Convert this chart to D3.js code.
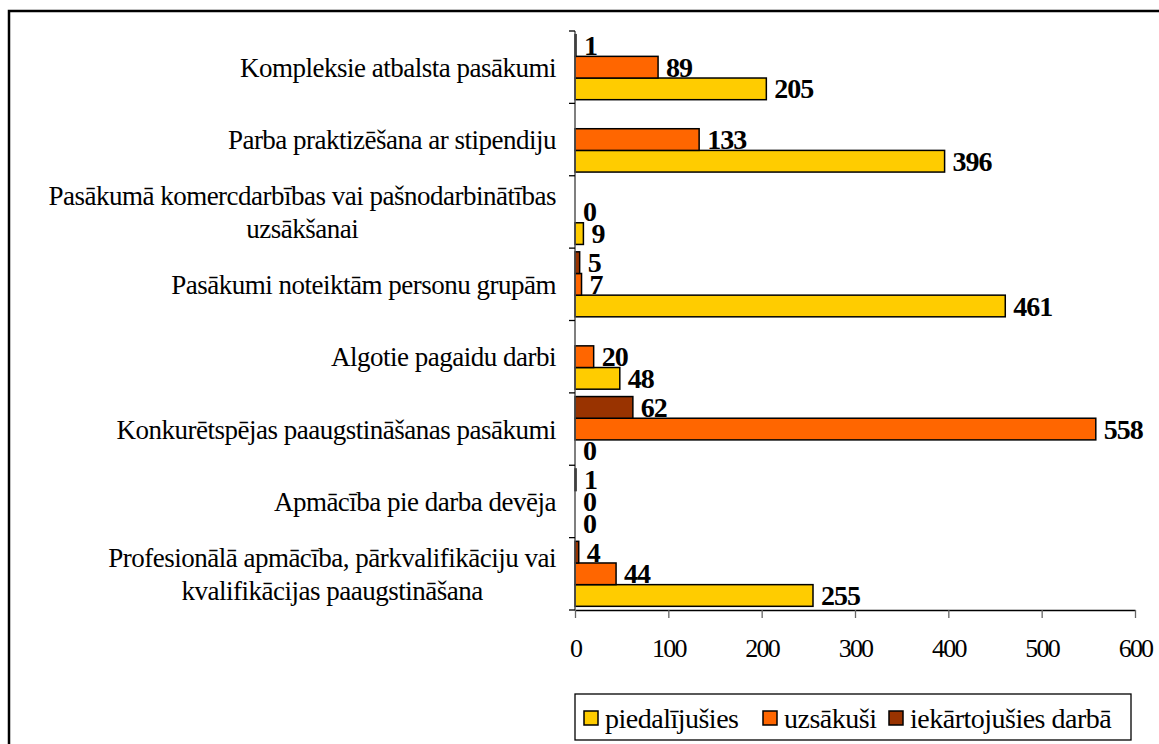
<!DOCTYPE html>
<html>
<head>
<meta charset="utf-8">
<script src="https://cdn.jsdelivr.net/npm/d3@7"></script>
<style>
  body { margin: 0; background: #fff; }
  svg { display: block; }
  svg text { font-family: "Liberation Serif", "DejaVu Serif", serif; }
</style>
</head>
<body>
<div id="chart"></div>
<script>
// Data
const categories = [
  'Kompleksie atbalsta pasākumi',
  'Parba praktizēšana ar stipendiju',
  'Pasākumā komercdarbības vai pašnodarbinātības uzsākšanai',
  'Pasākumi noteiktām personu grupām',
  'Algotie pagaidu darbi',
  'Konkurētspējas paaugstināšanas pasākumi',
  'Apmācība pie darba devēja',
  'Profesionālā apmācība, pārkvalifikāciju vai kvalifikācijas paaugstināšana'
];
// how the long labels break into lines
const categoryLines = [
  ['Kompleksie atbalsta pasākumi'],
  ['Parba praktizēšana ar stipendiju'],
  ['Pasākumā komercdarbības vai pašnodarbinātības', 'uzsākšanai'],
  ['Pasākumi noteiktām personu grupām'],
  ['Algotie pagaidu darbi'],
  ['Konkurētspējas paaugstināšanas pasākumi'],
  ['Apmācība pie darba devēja'],
  ['Profesionālā apmācība, pārkvalifikāciju vai', 'kvalifikācijas paaugstināšana']
];
const piedalijusies = [205, 396, 9, 461, 48, 0, 0, 255];
const uzsakusi = [89, 133, 0, 7, 20, 558, 0, 44];
const iekartojusies = [1, null, null, 5, null, 62, 1, 4];
const seriesNames = ['piedalījušies', 'uzsākuši', 'iekārtojušies darbā'];
const xTicks = [0, 100, 200, 300, 400, 500, 600];

const colors = {'piedalījušies': '#FFCC00', 'uzsākuši': '#FF6600', 'iekārtojušies darbā': '#993300'};
const seriesValues = {'piedalījušies': piedalijusies, 'uzsākuši': uzsakusi, 'iekārtojušies darbā': iekartojusies};

const svgWidth = 1159, svgHeight = 744;
const svg = d3.select('#chart').append('svg')
  .attr('width', svgWidth)
  .attr('height', svgHeight);

// outer frame (runs off the right and bottom edges)
svg.append('rect')
  .attr('x', 9).attr('y', 11)
  .attr('width', 1200).attr('height', 800)
  .attr('fill', 'none').attr('stroke', '#000').attr('stroke-width', 2.5);

// scales
const x = d3.scaleLinear().domain([0, 600]).range([575, 1135]);
const y = d3.scaleBand().domain(categories).range([31, 610]);
// inside each band Excel puts the last series on top
const ySub = d3.scaleBand()
  .domain(seriesNames.slice().reverse())
  .range([0, y.bandwidth()])
  .paddingOuter(0.17);

// bars
const rows = [];
categories.forEach((c, i) => {
  seriesNames.forEach(s => {
    rows.push({cat: c, series: s, value: seriesValues[s][i]});
  });
});
const shown = rows.filter(d => d.value !== null);

svg.append('g').selectAll('rect')
  .data(shown.filter(d => d.value > 0))
  .enter()
  .append('rect')
  .attr('x', x(0))
  .attr('y', d => y(d.cat) + ySub(d.series))
  .attr('width', d => x(d.value) - x(0))
  .attr('height', ySub.bandwidth())
  .attr('fill', d => colors[d.series])
  .attr('stroke', '#000')
  .attr('stroke-width', 1.5);

// value labels
svg.append('g').selectAll('text')
  .data(shown)
  .enter()
  .append('text')
  .attr('x', d => x(d.value) + 8)
  .attr('y', d => y(d.cat) + ySub(d.series) + ySub.bandwidth() / 2)
  .attr('dy', '0.34em')
  .style('font-size', '28px')
  .style('font-weight', 'bold')
  .style('letter-spacing', '-1px')
  .text(d => d.value);

// x axis
const xAxis = svg.append('g')
  .attr('transform', `translate(0,610)`)
  .call(d3.axisBottom(x).tickValues(xTicks).tickSize(8).tickPadding(21).tickSizeOuter(0));
xAxis.select('.domain').attr('stroke', '#000').attr('stroke-width', 1.5);
xAxis.selectAll('.tick line').attr('stroke', '#666').attr('stroke-width', 1.3);
xAxis.selectAll('.tick text')
  .style('font-size', '26px')
  .style('font-family', '"Liberation Serif", serif')
  .style('letter-spacing', '-1.8px')
  .attr('fill', '#000');

// y axis: line plus ticks on band edges
const yAxis = svg.append('g');
yAxis.append('line')
  .attr('x1', x(0)).attr('x2', x(0))
  .attr('y1', y.range()[0]).attr('y2', y.range()[1])
  .attr('stroke', '#555').attr('stroke-width', 1.5);
const edges = categories.map(c => y(c)).concat([y.range()[1]]);
yAxis.selectAll('.ytick')
  .data(edges)
  .enter()
  .append('line')
  .attr('x1', x(0) - 6).attr('x2', x(0))
  .attr('y1', d => d).attr('y2', d => d)
  .attr('stroke', '#000').attr('stroke-width', 1.3);

// category labels, multi-line blocks centred on themselves
const labelRight = 556;
const lineGap = 33;
const catG = svg.append('g');
categoryLines.forEach((lines, i) => {
  const cy = y(categories[i]) + y.bandwidth() / 2;
  const g = catG.append('g');
  const texts = lines.map((t, j) => g.append('text')
    .attr('y', cy + (j - (lines.length - 1) / 2) * lineGap)
    .attr('dy', '0.35em')
    .style('font-size', '27px')
    .style('letter-spacing', '-0.5px')
    .text(t));
  const widths = texts.map(t => t.node().getComputedTextLength());
  const maxW = d3.max(widths);
  texts.forEach(t => t.attr('x', labelRight - maxW / 2).attr('text-anchor', 'middle'));
});

// legend
const legend = svg.append('g');
legend.append('rect')
  .attr('x', 575).attr('y', 694)
  .attr('width', 556).attr('height', 46)
  .attr('fill', '#fff').attr('stroke', '#000').attr('stroke-width', 1.3);
const legendX = [584, 763, 889];
seriesNames.forEach((s, i) => {
  legend.append('rect')
    .attr('x', legendX[i]).attr('y', 711)
    .attr('width', 14).attr('height', 14)
    .attr('fill', colors[s]).attr('stroke', '#000').attr('stroke-width', 1.5);
  legend.append('text')
    .attr('x', legendX[i] + 21).attr('y', 718)
    .attr('dy', '0.35em')
    .style('font-size', '28px')
    .style('letter-spacing', '-0.5px')
    .text(s);
});
</script>
</body>
</html>
